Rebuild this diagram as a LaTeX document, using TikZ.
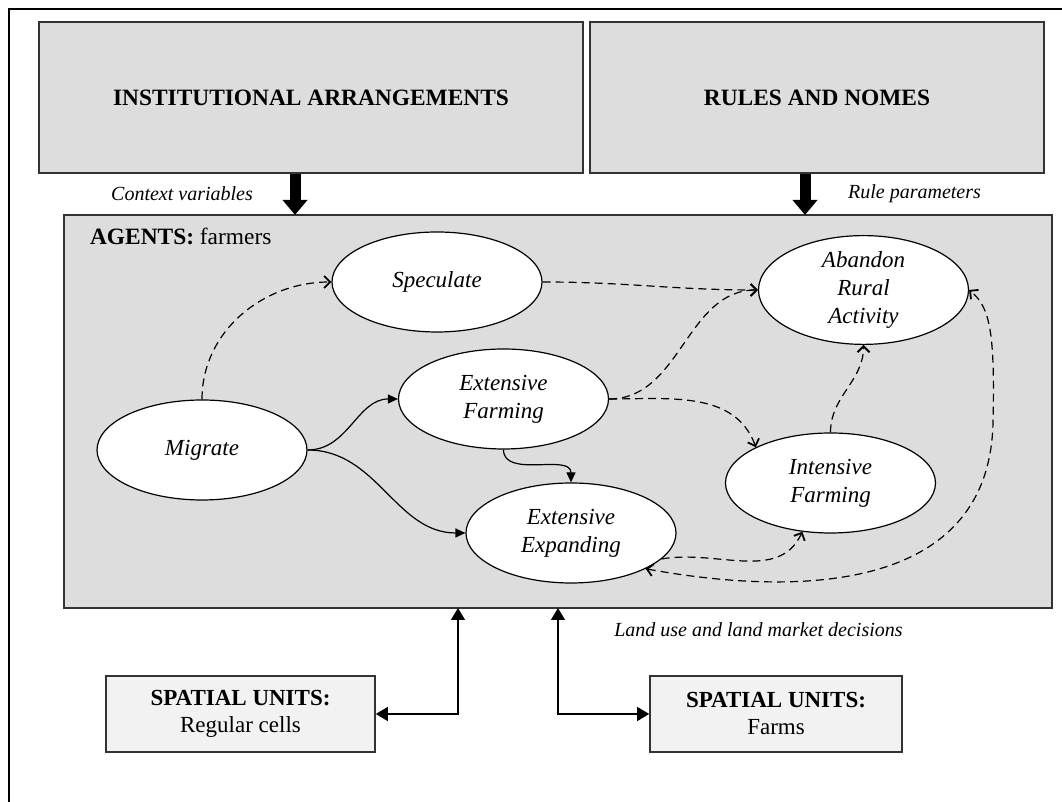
\documentclass[tikz,border=0pt]{standalone}
\usepackage{fontspec}
\setmainfont{Liberation Serif}
\usetikzlibrary{shapes.geometric,arrows.meta}
\definecolor{boxgray}{HTML}{DDDDDD}
\definecolor{unitgray}{HTML}{F2F2F2}
\definecolor{edgegray}{HTML}{333333}
\tikzset{
  panel/.style={draw=edgegray,line width=0.8pt,fill=boxgray,inner sep=0pt},
  unitbox/.style={draw=edgegray,line width=0.8pt,fill=unitgray,inner sep=0pt,align=center,
    font=\fontsize{11.5}{13.5}\selectfont},
  choice/.style={ellipse,draw,fill=white,line width=0.6pt,inner sep=0pt,
    minimum width=105pt,minimum height=50pt,align=center,
    font=\fontsize{11.5}{14}\selectfont\itshape},
  flow/.style={line width=0.6pt,-{Triangle[length=5pt,width=4.5pt]}},
  maybe/.style={line width=0.6pt,dash pattern=on 4pt off 2.5pt,
    -{Straight Barb[length=3pt,width=6pt,line width=0.9pt]}},
  feed/.style={line width=5.5pt,-{Triangle[length=7.5pt,width=12pt]}},
  link/.style={line width=0.6pt,{Triangle[length=6pt,width=7pt]}-{Triangle[length=6pt,width=7pt]}},
  note/.style={font=\fontsize{10}{12}\selectfont\itshape}
}
\begin{document}
\begin{tikzpicture}[x=0.5pt,y=0.5pt]
\useasboundingbox (0,0) rectangle (1062,802);
\draw[line width=1pt] (9,0) -- (9,793) -- (1062,793);
% top panels
\node[panel,minimum width=272pt,minimum height=75.5pt] (inst) at (311,704.5)
  {\fontsize{11.7}{14}\selectfont\bfseries INSTITUTIONAL ARRANGEMENTS};
\node[panel,minimum width=227pt,minimum height=75.5pt] (rules) at (817,704.5)
  {\fontsize{11.7}{14}\selectfont\bfseries RULES AND NOMES};
\node[panel,minimum width=494pt,minimum height=196.5pt] (agents) at (558,390.5) {};
\node[anchor=base west,font=\fontsize{11.7}{14}\selectfont] (agtitle) at (83,557)
  {\textbf{AGENTS:} farmers};
\coordinate (ctxin) at (295,587);
\coordinate (rulein) at (805,587);
\draw[feed] (inst.south -| ctxin) -- (ctxin);
\draw[feed] (rules.south -| rulein) -- (rulein);
\node[note] (ctx) at (182,608) {Context variables};
\node[note] (rpar) at (914.5,608) {Rule parameters};
% decisions
\node[choice] (spec) at (437,520) {Speculate};
\node[choice] (extf) at (503.5,403) {Extensive\\Farming};
\node[choice] (migr) at (202,352) {Migrate};
\node[choice] (exte) at (571,269) {Extensive\\Expanding};
\node[choice] (aban) at (863.5,512) {Abandon\\Rural\\Activity};
\node[choice] (intf) at (830.5,319) {Intensive\\Farming};
\draw[flow] (migr.east) to[out=0,in=180] (extf.west);
\draw[flow] (migr.east) to[out=0,in=180] (exte.west);
\draw[flow] (extf.south) to[out=-90,in=90] (exte.north);
\draw[maybe] (migr.north) to[out=90,in=180] (spec.west);
\draw[maybe] (spec.east) to[out=0,in=180] (aban.west);
\draw[maybe] (extf.east) to[out=0,in=180] (aban.west);
\draw[maybe] (extf.east) to[out=0,in=110] (intf.north west);
\draw[maybe] (intf.north) to[out=90,in=-90] (aban.south);
\draw[maybe] (exte.-16) to[out=10,in=-115] (intf.-120);
\draw[maybe,{Straight Barb[length=3pt,width=6pt,line width=0.9pt]}-{Straight Barb[length=3pt,width=6pt,line width=0.9pt]}]
  (exte.south east) .. controls (800,205) and (990,210) .. (993,380)
  .. controls (995,470) and (990,495) .. (aban.east);
% spatial units
\node[unitbox,minimum width=134.5pt,minimum height=38pt] (cells) at (240.5,88)
  {\textbf{SPATIAL UNITS:}\\Regular cells};
\node[unitbox,minimum width=126pt,minimum height=38pt] (farms) at (776,88)
  {\textbf{SPATIAL UNITS:}\\Farms};
\coordinate (cellup) at (458,194);
\coordinate (farmup) at (558,194);
\draw[link] (cellup) |- (cells.east);
\draw[link] (farmup) |- (farms.west);
\node[note] (land) at (758.5,172) {Land use and land market decisions};
\end{tikzpicture}
\end{document}
